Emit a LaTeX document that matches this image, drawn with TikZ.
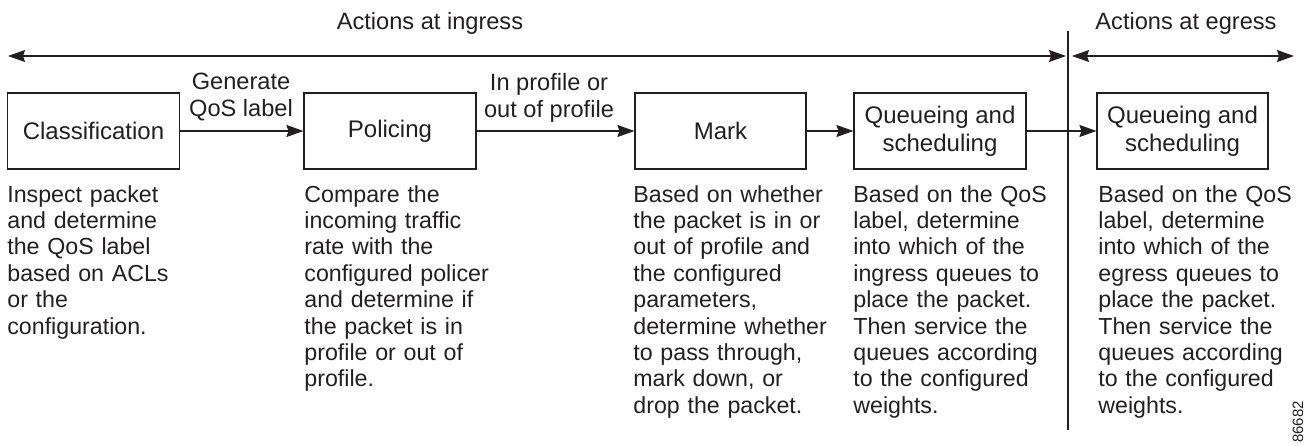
\documentclass[tikz,border=0pt]{standalone}
\usepackage{fontspec}
\setmainfont{Liberation Sans}
\usetikzlibrary{arrows.meta}
\definecolor{ink}{HTML}{231F20}
\tikzset{
  every node/.style={text=ink, font=\fontsize{11.6}{13.2}\selectfont},
  procbox/.style={draw=ink, line width=0.55pt, minimum width=#1, minimum height=38pt, inner sep=0pt, align=center, font=\fontsize{12}{13.8}\selectfont},
  desc/.style={anchor=base west, inner sep=0pt, text width=110pt, align=left},
  flow/.style={draw=ink, line width=0.55pt, -{Stealth[length=8.5pt,width=6pt,inset=1pt]}},
  span/.style={draw=ink, line width=0.55pt, {Stealth[length=8.5pt,width=6pt,inset=1pt]}-{Stealth[length=8.5pt,width=6pt,inset=1pt]}},
  lbl/.style={align=center, inner sep=0pt, font=\fontsize{11.8}{13.6}\selectfont}
}
\begin{document}
\begin{tikzpicture}[x=0.5pt, y=-0.5pt]
\useasboundingbox (0,0) rectangle (1308,445);

% headers
\node[lbl] (ingress) at (430,23) {Actions at ingress};
\node[lbl] (egress) at (1186,23) {Actions at egress};

% span arrows and divider
\coordinate (inL) at (8,56);
\coordinate (inR) at (1066,56);
\coordinate (egL) at (1072,56);
\coordinate (egR) at (1294,56);
\draw[span] (inL) -- (inR);
\draw[span] (egL) -- (egR);
\coordinate (divT) at (1068,31);
\coordinate (divB) at (1068,430);
\draw[draw=ink, line width=0.55pt] (divT) -- (divB);

% boxes
\node[procbox=86pt] (cls) at (93.5,131) {Classification};
\node[procbox=86pt] (pol) at (390,131) {Policing};
\node[procbox=85.5pt] (mark) at (720.5,131) {Mark};
\node[procbox=86pt] (q1) at (940,131) {Queueing and\\scheduling};
\node[procbox=85.5pt] (q2) at (1182.5,131) {Queueing and\\scheduling};

% flow arrows
\draw[flow] (cls) -- (pol);
\draw[flow] (pol) -- (mark);
\draw[flow] (mark) -- (q1);
\draw[flow] (q1) -- (q2);

% arrow labels
\node[lbl] (gen) at (241,97) {Generate\\QoS label};
\node[lbl] (prof) at (549,98) {In profile or\\out of profile};

% descriptions
\node[desc] (dcls) at (7,202) {Inspect packet\\and determine\\the QoS label\\based on ACLs\\or the\\configuration.};
\node[desc] (dpol) at (304,202) {Compare the\\incoming traffic\\rate with the\\configured policer\\and determine if\\the packet is in\\profile or out of\\profile.};
\node[desc] (dmark) at (633,202) {Based on whether\\the packet is in or\\out of profile and\\the configured\\parameters,\\determine whether\\to pass through,\\mark down, or\\drop the packet.};
\node[desc] (dq1) at (853,202) {Based on the QoS\\label, determine\\into which of the\\ingress queues to\\place the packet.\\Then service the\\queues according\\to the configured\\weights.};
\node[desc] (dq2) at (1098,202) {Based on the QoS\\label, determine\\into which of the\\egress queues to\\place the packet.\\Then service the\\queues according\\to the configured\\weights.};

% figure id
\node[rotate=90, inner sep=0pt, font=\fontsize{7.5}{9}\selectfont] (fid) at (1298,422) {86682};
\end{tikzpicture}
\end{document}
